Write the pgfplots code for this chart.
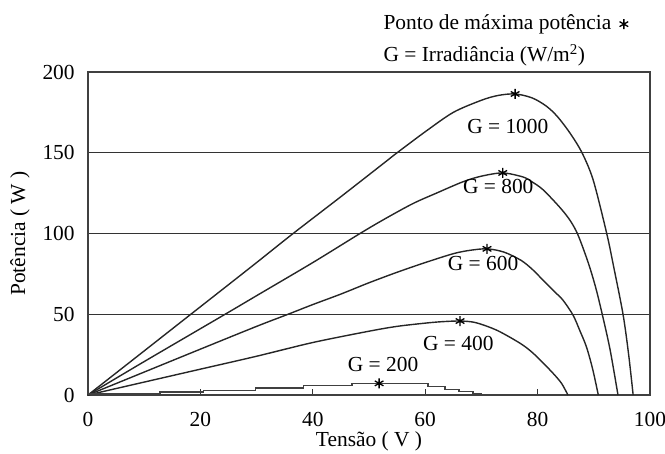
\documentclass[border=0pt]{standalone}
\usepackage{fontspec}
\setmainfont{Liberation Serif}
\usepackage{pgfplots}
\pgfplotsset{compat=1.18}
\newcommand{\lblfont}{\fontsize{21.5}{25}\selectfont}
\begin{document}
\lblfont
\begin{tikzpicture}
\begin{axis}[
  scale only axis, width=562bp, height=323bp,
  xmin=0, xmax=100, ymin=0, ymax=200,
  xtick={0,20,...,100}, ytick={0,50,...,200},
  xtick pos=bottom, ytick pos=left,
  tick align=inside,
  x tick style={black!80, line width=1bp},
  y tick style={draw=none},
  major tick length=6bp,
  ymajorgrids,
  grid style={black!80, line width=1.4bp},
  axis line style={black!75, line width=1.6bp},
  /pgf/number format/assume math mode=true,
  tick label style={font=\lblfont},
  xticklabel style={yshift=-10bp},
  yticklabel style={xshift=-6bp},
  every axis x label/.style={at={(rel axis cs:0.5,0)}, yshift=-46bp, anchor=center, font=\lblfont},
  every axis y label/.style={at={(rel axis cs:0,0.5)}, xshift=-68bp, rotate=90, anchor=center, font=\lblfont},
  xlabel={Tensão ( V )},
  ylabel={Potência ( W )},
  legend plot pos=right,
  legend style={draw=none, fill=none, at={(rel axis cs:0.522,1)}, anchor=south west,
    yshift=5bp, inner sep=0pt, font=\lblfont, row sep=7bp, cells={anchor=west}},
  curve/.style={black!85, line width=1.4bp, smooth},
]
% legend entries: maximum power point marker and irradiance note
\addlegendimage{only marks, mark=asterisk, mark size=5bp, black, line width=1.3bp,
  legend image post style={xshift=2bp}}
\addlegendimage{empty legend}

% G = 1000 W/m^2
\addplot[curve] coordinates {
  (0,0) (10,27.3) (18.3,50) (25,68.3) (30,82) (36.5,100) (45,122.8)
  (52.8,144) (55,150) (60,163) (65,175) (70,182.5) (73,185.5) (76,186.4)
  (79,184) (81.5,179) (83.5,172.5) (85.8,162) (87.9,150) (89.9,133)
  (92.3,100) (93.5,80) (95.2,50) (96.2,25) (97,0)};
% G = 800 W/m^2
\addplot[curve] coordinates {
  (0,0) (10,20.7) (24.4,50) (30,61.5) (40,82) (48.4,100) (52.8,109)
  (57.8,118.5) (62,125) (66.7,132) (70,135.5) (73.8,137.5) (77.4,135)
  (79,132) (81,127) (84,116) (85.8,108) (87.2,99) (89,82) (90.3,67)
  (91.5,50) (92.9,28) (94.3,0)};
% G = 600 W/m^2
\addplot[curve] coordinates {
  (0,0) (10,14.2) (20,28.4) (30,42.5) (35.6,50) (40,56) (45,62.5)
  (50,69.5) (55,76) (60,82) (65,87.5) (68,89.6) (71,90.5) (74,88.5)
  (77,83.5) (79,78) (81,71) (83,64) (84.5,58.8) (86.3,49.5) (87.5,40)
  (88.7,29.7) (89.8,16) (90.8,0)};
% G = 400 W/m^2
\addplot[curve] coordinates {
  (0,0) (10,8) (20,16) (30,24) (40,32.5) (50,39.5) (55,42.5) (60,44.5)
  (63,45.4) (66.2,45.8) (69,44.8) (72.8,40) (76.9,32) (79,26.5) (81,19.8)
  (83,12.5) (84.3,7) (85.4,0)};
% G = 200 W/m^2 (stepped trace)
\addplot[black!75, line width=1.3bp, const plot] coordinates {
  (0,0.6) (12.8,1.8) (20.5,3) (29.8,4.3) (38.4,6) (47,7.2) (60.5,5.3)
  (63.5,3.5) (66,2) (68.5,0.8) (70,0)};

% maximum power points
\addplot[only marks, mark=asterisk, mark size=5bp, black, line width=1.3bp] coordinates {
  (76,186.4) (73.8,137.5) (71,90.5) (66.2,45.8) (51.8,7.2)};

\legend{Ponto de máxima potência, G = Irradiância (W/m\textsuperscript{2})}

% curve labels
\node[font=\lblfont] at (axis cs:74.7,166) {G = 1000};
\node[font=\lblfont] at (axis cs:73,129) {G = 800};
\node[font=\lblfont] at (axis cs:70.3,81.7) {G = 600};
\node[font=\lblfont] at (axis cs:65.9,32) {G = 400};
\node[font=\lblfont] at (axis cs:52.5,18.6) {G = 200};
\end{axis}
\pgfresetboundingbox
\path[use as bounding box] (-88bp,-59bp) rectangle (577bp,395bp);
\end{tikzpicture}
\end{document}
